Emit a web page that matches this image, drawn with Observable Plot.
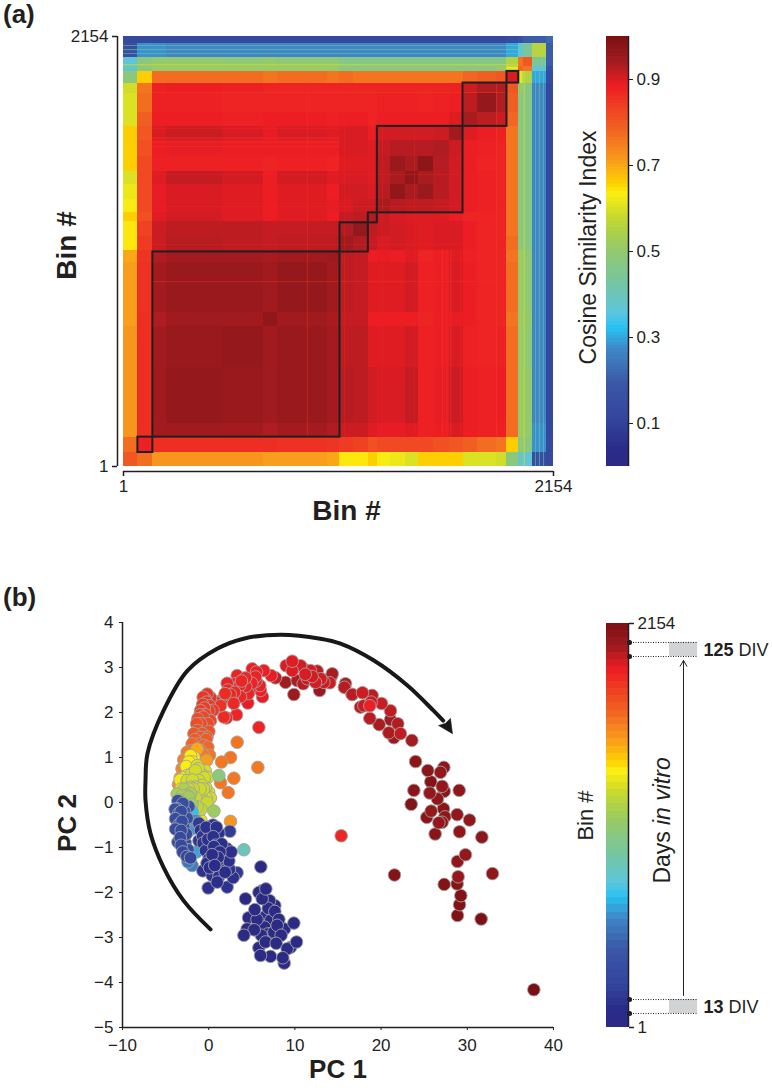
<!DOCTYPE html>
<html><head><meta charset="utf-8">
<style>
html,body{margin:0;padding:0;background:#fff}
#page{position:relative;width:772px;height:1092px;overflow:hidden;font-family:"Liberation Sans",Arial,sans-serif;color:#231f20}
.panel{position:absolute;font-weight:bold;font-size:26px;line-height:30px;left:3px}
</style>
<script src="https://cdn.jsdelivr.net/npm/d3@7"></script>
<script src="https://cdn.jsdelivr.net/npm/@observablehq/plot@0.6"></script>
</head><body><div id="page">
<div class="panel" style="top:-1px">(a)</div>
<div class="panel" style="top:582px">(b)</div>
</div>
<script>
const ink = "#231f20";
// colour ramp
const rampStops = [0,.044,.114,.19,.27,.323,.356,.41,.463,.52,.58,.635,.658,.71,.78,.855,.886,.937,1];
const rampHex = ["#2b2a83","#2a2c8c","#34479d","#3a57a5","#3f86c6","#29c2f2","#5cc5e0","#6fc5ae","#84c78a","#9ccb5e","#c7d92f","#fdee0f","#fdd000","#f99d1c","#f26522","#ee3123","#ed1c24","#a51c20","#7a1014"];
const colorScale = {type:"linear", domain:rampStops, range:rampHex};

// (a) bin segments along both axes of the similarity matrix
const segEdges = [1,73,148,214,497,700,772,1022,1085,1155,1227,1272,1338,1413,1480,1555,1633,1701,1771,1871,1921,1980,2004,2051,2121,2154];
// upper triangle of mean similarity between segments
const simRows = [
[.80,.77,.72,.72,.72,.71,.71,.70,.64,.64,.66,.63,.62,.60,.66,.66,.66,.60,.60,.59,.48,.38,.37,.15,.13],
[.88,.86,.86,.86,.86,.855,.85,.84,.83,.81,.82,.82,.82,.82,.81,.80,.79,.77,.76,.66,.50,.48,.28,.13],
[.94,.945,.94,.93,.94,.93,.91,.91,.895,.89,.89,.895,.88,.885,.90,.885,.88,.88,.77,.53,.50,.28,.12],
[.96,.955,.945,.955,.94,.925,.92,.905,.90,.90,.915,.88,.89,.91,.885,.88,.885,.77,.53,.50,.27,.12],
[.96,.945,.955,.94,.92,.92,.895,.895,.895,.905,.88,.885,.90,.88,.875,.88,.77,.53,.49,.27,.12],
[.965,.945,.935,.915,.915,.885,.885,.885,.885,.875,.885,.89,.885,.875,.875,.76,.53,.50,.27,.12],
[.96,.945,.92,.915,.895,.895,.895,.905,.88,.885,.90,.885,.875,.875,.77,.53,.49,.27,.12],
[.95,.92,.915,.885,.89,.885,.895,.875,.885,.895,.88,.875,.875,.76,.53,.49,.27,.12],
[.945,.93,.915,.90,.905,.90,.895,.90,.90,.885,.875,.875,.77,.49,.47,.27,.12],
[.96,.92,.91,.905,.90,.895,.90,.90,.885,.875,.875,.76,.49,.47,.27,.12],
[.93,.91,.90,.895,.895,.895,.885,.875,.875,.875,.76,.49,.47,.27,.12],
[.935,.925,.92,.92,.915,.905,.885,.88,.875,.76,.49,.47,.27,.12],
[.965,.935,.955,.925,.905,.885,.88,.875,.76,.49,.47,.27,.12],
[.965,.935,.925,.905,.885,.88,.875,.76,.49,.47,.27,.12],
[.97,.925,.905,.885,.875,.875,.76,.49,.47,.27,.12],
[.93,.91,.885,.88,.875,.76,.49,.47,.27,.12],
[.945,.895,.885,.88,.76,.49,.47,.27,.12],
[.935,.92,.91,.78,.49,.47,.27,.12],
[.96,.93,.79,.49,.47,.27,.12],
[.93,.80,.52,.47,.27,.12],
[.90,.62,.55,.30,.14],
[.78,.76,.36,.16],
[.80,.45,.20],
[.56,.20],
[.22]
];
// thin bright / dark streaks in the matrix
const streakBin  = [1870,1640,1598,922,1621,2104,2083,2064,1982,2007,1998,1560,1690,1110,1300,1460];
const streakVal  = [.82,.83,.84,.85,.84,.42,.42,.40,.38,.60,.48,.86,.86,.865,.865,.865];
const streakFrom = [148,148,148,148,148,1,1,1,1,1,1,148,148,148,148,148];
const streakTo   = [1921,1085,1085,1921,1085,2051,2051,2051,1980,1980,1980,1085,1085,1921,1921,1921];
const streakSize = [4,5,5,4,4,5,6,5,5,6,5,4,4,3,3,3];
// black outlined diagonal blocks
const blockEdgesX = [73,148,1085,1227,1272,1701,1921,1980];
const blockEdgesY = [71,148,1075,1221,1271,1704,1921,1979];
const simTicksY = [1,2154];
const simBarTicks = [.1,.3,.5,.7,.9];

// (b) PC scores per time bin
const pc1Tail=[37.72,31.61,28.86,29.1,29.25,27.32,21.55,23.49,25.77];
const pc2Tail=[-4.16,-2.59,-2.51,-2.27,-2.07,-1.82,-1.61,-.04,.46];
const binTail=[2150,2140,2135,2130,2130,2125,2120,2125,2120];
const pc1Late=[28.82,28.94,32.92,28.86,29.79,31.69,29.1,26.27,30.26,28.82,27.4,25.3,26.7,27.08,25.81,27.24,26.54,29.06,27.32,23.8,25.65,27.08,27.28,26.89,25.42,24];
const pc2Late=[-1.81,-1.65,-1.58,-1.31,-1.16,-.77,-.65,-.7,-.39,-.27,-.32,-.33,-.45,-.44,-.19,-.14,.08,.27,.25,.27,.21,.36,.78,.67,.71,.91];
const binLate=[2110,2060,2085,2080,2075,2090,2085,2105,2080,2075,2085,2095,2070,2085,2075,2105,2085,2085,2100,2095,2075,2070,2090,2070,2100,2090];
const pc1Fall=[23.57,21.48,22.25,20.9,21.94,19.78,21.09,18.69,21.09,20.05,18.85,17.6,18,18.69,18.96,17.84,16.64,15.87,15.75,16.65];
const pc2Fall=[1.38,1.44,1.53,1.55,1.75,1.73,1.84,1.87,2.04,2.2,2.23,2.12,2.15,2.15,2.38,2.44,2.4,2.64,2.56,2.4];
const binFall=[2020,2040,1975,2005,1995,2010,2020,1985,1975,1960,1960,1990,1970,1900,1980,1955,1985,2010,1990,1985];
const pc1Top=[14.33,14.21,15.76,14.05,13.36,12.39,12.86,12.59,11.81,11.43,11,10.96,10.65,10.26,9.88,9.69,9.69,8.99,8.91,11.2,12,13];
const pc2Top=[2.86,2.8,2.56,2.66,2.67,2.67,2.49,2.92,2.93,2.75,2.97,2.64,3.04,2.71,2.4,3.14,2.93,3.04,2.67,2.85,2.8,2.75];
const binTop=[2010,2030,2020,1960,1955,1945,2050,1985,1950,1965,1960,1990,1945,2000,2040,1925,1930,1935,2030,1940,1945,1950];
const pc1Rise=[7.75,7.25,6.4,6.24,6.01,5.93,5.55,5.43,5.05,4.77,4.54,4.27,3.69,3.5,3.3,3.11,2.72,2.22,2.14,1.56,1.37,5,4.3,3.8,3,2.5,3.6,4.6,5.5,2.9,1.9];
const pc2Rise=[2.77,2.82,2.93,2.35,2.49,2.6,2.9,2.79,2.97,2.5,2.21,2.77,2.35,2.53,2.82,2.64,2.33,2.5,2.65,2.28,2.15,2.65,2.58,2.7,2.45,2.4,2.6,2.42,2.7,2.2,2.42];
const binRise=[1960,1910,1905,1910,1900,1895,1895,1890,1900,1890,1915,1880,1880,1885,1890,1890,1880,1880,1885,1885,1840,1890,1885,1880,1875,1870,1885,1890,1895,1870,1860];
const pc1Red=[15.37,5.82,1.76,3.23,2.07];
const pc2Red=[-.74,1.67,1.9,1.95,1.88];
const binRed=[1875,1880,1860,1880,1870];
const pc1Ora=[-.18,-.4,-.64,.21,-.25,.79,.5,-.95,.02,-.5,-1.26,-.64,.21,-.9,-1,-1.72,-.76,.02,-1.3,-.3,-1.92,-.56,-1.2,-.1,.1,-2.5,-1.9,-.6,-.7,.1,-.4,-.1,-1.4,-1.6,-1,-.2,-2.1,-1.5,-.9,-2.3,-3.1,-3.3,-2.9,-3.5,-2.7];
const pc2Ora=[2.41,2.3,2.34,2.33,2.23,2.23,2.05,2.04,2.04,2.1,1.86,1.9,1.82,1.75,1.95,1.53,1.53,1.58,1.6,1.4,1.3,1.27,1.3,1.23,1.05,1.12,1,1.05,2.18,2.15,1.95,1.75,1.75,1.4,1.45,1.45,1.15,1.1,1.15,.98,.75,.55,.95,.4,.85];
const binOra=[1840,1835,1830,1845,1825,1850,1820,1800,1810,1805,1770,1780,1785,1765,1790,1730,1735,1740,1750,1720,1690,1690,1700,1680,1640,1620,1610,1630,1815,1825,1795,1770,1755,1715,1725,1730,1670,1665,1675,1610,1590,1580,1600,1570,1590];
const pc1Amb=[1.49,2.53,3.3,5.7,2.92,1.37,2.26,2.53,-.25,-1.34];
const pc2Amb=[.9,1,1.34,.78,.54,.44,.22,-.42,.93,1.19];
const binAmb=[1630,1640,1640,1630,1630,1640,1640,1550,1530,1500];
const pc1Yel=[-2.11,-2.3,-1.9,-2.6,-2.2,-1.5,-2.9,-2.5,-1.9,-3.2,-2.9,-3,-1.2,-3.3,-2.7,-1.14,-1.6,-1.7,-3.4,-.9];
const pc2Yel=[1.04,.9,.9,.8,.75,.8,.55,.6,.65,.3,.3,.1,-.25,.5,.45,-.22,-.3,1.0,.15,-.4];
const binYel=[1370,1365,1370,1360,1365,1370,1350,1355,1360,1340,1345,1335,1330,1345,1350,1325,1330,1375,1335,1320];
const pc1Lim=[-1.34,-2.03,-.87,-1.53,-2.5,-.76,-1.53,0,-2.1,-.95,-.37,-1.14,-.1,-1.72,-.76,-1.34,.2,-.3,-.6,-1,-1.5,-.5,-1.8,-.2,-.9,-1.9,-1.2,-2.3,-.4];
const pc2Lim=[.82,.62,.64,.71,.49,.38,.34,.23,.34,.15,.34,.49,.56,.12,-.03,-.1,.1,.1,.3,.3,.1,.55,.3,0,-.15,.5,.75,.3,.7];
const binLim=[1290,1280,1285,1275,1270,1265,1260,1280,1255,1260,1275,1270,1285,1250,1255,1240,1270,1265,1260,1260,1250,1275,1255,1250,1245,1270,1285,1255,1290];
const pc1Grn=[-2.88,-3.66,-2.5,-3.08,-1.92,-2.3,1.18,.6,4.08,-2.7,-3.3,-2.1];
const pc2Grn=[.3,.19,.15,.15,-.04,.12,.6,-.19,-1.05,-.02,.05,.2];
const binGrn=[1170,1160,1155,1150,1130,1140,1040,1120,860,1145,1150,1160];
const pc1Cya=[-1.41,-1.92,-1.5,-2.4,-2.1,-1.9];
const pc2Cya=[-1.1,-1.4,-.4,-1.32,-.6,-.2];
const binCya=[640,560,600,520,610,700];
const pc1Arc=[-3.58,-3,-3.66,-2.3,-3.2,-3.85,-3.1,-2.5,-3.85,-3.2,-2.9,-3.58,-2.7,-3.3,-3,-3.2,-2.4,-2.11,-3.9,-2.6,-3.5,-3.5,-2.8,-2.55];
const pc2Arc=[.04,-.02,-.14,-.09,-.2,-.36,-.42,-.35,-.59,-.62,-.55,-.88,-.9,-.78,-1.1,-.95,-1.05,-1.23,-.15,-.7,-.5,-.25,-.2,-1.2];
const binArc=[330,320,310,340,300,300,290,320,290,280,300,280,290,270,260,270,280,250,310,290,295,305,325,260];
const pc1Mid=[-1.14,-.95,.02,2.45,1.18,.52,-1.14,-.64,.6,-.37,2.14,2.61,1.56,.4,.02,.98,2.34,3.3,-.68,.4,1.18,1.76,2.84,-.06,2.14,.98,1.3,.7,1.9,-.2,.8,-.1,1.5,.1,2.4,1.1,.5,-.7,-.3,.9];
const pc2Mid=[-.46,-.62,-.61,-.64,-.68,-.76,-.85,-.9,-.98,-1.07,-1.03,-1.1,-1.18,-1.16,-1.25,-1.31,-1.3,-1.56,-1.52,-1.62,-1.65,-1.47,-1.67,-1.9,-1.88,-1.77,-1.1,-1.4,-1.55,-1.35,-.95,-.82,-.92,-1.45,-1.48,-1.22,-.5,-.75,-.55,-.55];
const binMid=[180,140,130,185,130,120,140,130,110,130,120,110,120,100,110,110,115,170,130,120,110,120,120,110,130,100,105,95,100,105,115,125,115,100,120,105,135,140,130,125];
const pc1Low=[6.05,6.2,6.63,5.82,4.27,7.06,6.2,7.67,5.35,7.67,6.59,8.14,4.62,9.88,8.8,6.48,5.28,4.46,7.17,4.08,6.9,6.59,7.83,5.82,10.19,9.49,9.1,6.01,7.17,8.6,8.76,7.94,7.56,6.9,5.6,7.2,6.1,8.4,6.7];
const pc2Low=[-1.43,-1.96,-1.92,-2,-2.14,-2.18,-2.14,-2.29,-2.38,-2.42,-2.53,-2.6,-2.56,-2.68,-2.81,-2.77,-2.83,-2.81,-2.83,-2.95,-2.92,-3.1,-3.13,-3.23,-3.1,-3.22,-3.25,-3.4,-3.42,-3.45,-3.57,-2.73,-2.88,-2.35,-2.6,-2.62,-2.95,-2.95,-2.72];
const binLow=[20,40,35,40,35,45,40,50,35,40,45,35,40,30,45,40,30,35,50,30,40,35,30,45,20,45,30,30,35,30,40,35,40,42,38,44,36,32,46];

const pc1 = [...pc1Tail,...pc1Late,...pc1Fall,...pc1Top,...pc1Rise,...pc1Red,...pc1Ora,...pc1Amb,...pc1Yel,...pc1Lim,...pc1Grn,...pc1Cya,...pc1Arc,...pc1Mid,...pc1Low];
const pc2 = [...pc2Tail,...pc2Late,...pc2Fall,...pc2Top,...pc2Rise,...pc2Red,...pc2Ora,...pc2Amb,...pc2Yel,...pc2Lim,...pc2Grn,...pc2Cya,...pc2Arc,...pc2Mid,...pc2Low];
const bin = [...binTail,...binLate,...binFall,...binTop,...binRise,...binRed,...binOra,...binAmb,...binYel,...binLim,...binGrn,...binCya,...binArc,...binMid,...binLow];

// trajectory annotation
const trajPc1=[.21,-2.92,-5.24,-6.75,-7.33,-7.33,-7.1,-5.24,-2.46,1.02,4.04,8.33,12.97,15.29,19.12,23.06,26.08,27.2];
const trajPc2=[-2.82,-2.18,-1.44,-.69,.04,.49,1.09,2.04,2.93,3.42,3.64,3.73,3.64,3.53,3.16,2.6,2.04,1.82];
const headPc1=[28.28,26.66,27.47,28.05,28.28];
const headPc2=[1.53,1.71,1.76,1.87,1.53];

// DIV brackets on the bin bar
const div13 = [76,150];
const div125 = [1978,2053];
const binBarTicks = [1,2154];
const pcXTicks = [-10,0,10,20,30,40];
const pcYTicks = [-5,-4,-3,-2,-1,0,1,2,3,4];

const page = document.getElementById("page");
function place(svg,left,top){svg.style.position="absolute";svg.style.left=left+"px";svg.style.top=top+"px";svg.style.maxWidth="none";svg.style.background="transparent";page.appendChild(svg);}
const font = "Liberation Sans";

// ---------- (a) heatmap
const cells=[];
simRows.forEach((row,i)=>row.forEach((v,k)=>{
  const j=i+k;
  cells.push({x1:segEdges[i],x2:segEdges[i+1],y1:segEdges[j],y2:segEdges[j+1],v});
  if(j!==i) cells.push({x1:segEdges[j],x2:segEdges[j+1],y1:segEdges[i],y2:segEdges[i+1],v});
}));
const streaks=[];
streakBin.forEach((b,i)=>{
  streaks.push({x1:streakFrom[i],x2:streakTo[i],y1:b,y2:b+streakSize[i],v:streakVal[i]});
  streaks.push({x1:b,x2:b+streakSize[i],y1:streakFrom[i],y2:streakTo[i],v:streakVal[i]});
});
const blocks=blockEdgesX.slice(1).map((b,i)=>({xa:blockEdgesX[i],xb:b,ya:blockEdgesY[i],yb:blockEdgesY[i+1]}));
place(Plot.plot({
  width:580,height:530,marginLeft:123,marginRight:27,marginTop:36,marginBottom:64,
  style:{fontFamily:font,color:ink,background:"transparent"},
  x:{domain:[1,2154],axis:null},y:{domain:[1,2154],axis:null},color:colorScale,
  marks:[
    Plot.rect(cells,{x1:"x1",x2:"x2",y1:"y1",y2:"y2",fill:"v",shapeRendering:"crispEdges"}),
    Plot.rect(streaks,{x1:"x1",x2:"x2",y1:"y1",y2:"y2",fill:"v",opacity:.55}),
    Plot.rect(blocks,{x1:"xa",x2:"xb",y1:"ya",y2:"yb",stroke:ink,strokeWidth:2,fill:"none"}),
    Plot.axisX({ticks:simTicksY,tickFormat:d=>String(d),tickSize:5,dy:5,fontSize:17,tickPadding:3,stroke:ink,strokeWidth:1.5,label:null}),
    Plot.ruleY([1],{dy:5,stroke:ink,strokeWidth:1.5}),
    Plot.axisY({ticks:simTicksY,tickFormat:d=>String(d),tickSize:5,dx:-6,fontSize:17,tickPadding:4,stroke:ink,strokeWidth:1.5,label:null}),
    Plot.ruleX([1],{dx:-6,stroke:ink,strokeWidth:1.5}),
    Plot.text(["Bin #"],{frameAnchor:"bottom",textAnchor:"middle",dy:53,dx:8,fontSize:28,fontWeight:"bold",fill:ink}),
    Plot.text(["Bin #"],{frameAnchor:"left",textAnchor:"middle",dx:-56,dy:-6,rotate:-90,fontSize:28,fontWeight:"bold",fill:ink})
  ]
}),0,0);

// ---------- (a) colour bar
const barLevels=d3.range(0,1,1/128);
place(Plot.plot({
  width:212,height:480,marginLeft:46,marginRight:144,marginTop:36,marginBottom:14,
  style:{fontFamily:font,color:ink,background:"transparent"},
  x:{domain:[0,1],axis:null},y:{domain:[0,1],axis:null},color:colorScale,
  marks:[
    Plot.rect(barLevels,{x1:0,x2:1,y1:d=>d,y2:d=>d+1/128,fill:d=>d+1/256,shapeRendering:"crispEdges"}),
    Plot.ruleX([1],{stroke:ink,strokeWidth:1.5}),
    Plot.axisY({anchor:"right",ticks:simBarTicks,tickFormat:d3.format(".1f"),tickSize:4,fontSize:17,tickPadding:4,stroke:ink,label:null}),
    Plot.text(["Cosine Similarity Index"],{frameAnchor:"left",textAnchor:"middle",dx:-18,dy:-4,rotate:-90,fontSize:23,fill:ink})
  ]
}),560,0);

// ---------- (b) scatter
const points=d3.sort(pc1.map((x,i)=>({x,y:pc2[i],bin:bin[i]})),d=>-d.bin);
const frac=b=>(b-1)/2153;
place(Plot.plot({
  width:600,height:532,marginLeft:122,marginRight:47,marginTop:62,marginBottom:65,
  style:{fontFamily:font,color:ink,background:"transparent"},
  x:{domain:[-10,40],axis:null},y:{domain:[-5,4],axis:null},color:colorScale,
  marks:[
    Plot.ruleX([-10],{stroke:ink,strokeWidth:1.5}),
    Plot.ruleY([-5],{stroke:ink,strokeWidth:1.5}),
    Plot.axisX({ticks:pcXTicks,tickSize:3,fontSize:17,tickPadding:8,stroke:ink,label:null}),
    Plot.axisY({ticks:pcYTicks,tickSize:3,fontSize:17,tickPadding:6,stroke:ink,label:null}),
    Plot.dot(points,{x:"x",y:"y",r:6.3,fill:d=>frac(d.bin),stroke:"#a3a3a3",strokeWidth:.9}),
    Plot.line(trajPc1.map((x,i)=>({x,y:trajPc2[i]})),{x:"x",y:"y",curve:"catmull-rom",stroke:"#1a1718",strokeWidth:4}),
    Plot.line(headPc1.map((x,i)=>({x,y:headPc2[i]})),{x:"x",y:"y",fill:"#1a1718",stroke:"#1a1718",strokeWidth:.5}),
    Plot.text(["PC 1"],{frameAnchor:"bottom",textAnchor:"middle",dy:50,fontSize:26,fontWeight:"bold",fill:ink}),
    Plot.text(["PC 2"],{frameAnchor:"left",textAnchor:"middle",dx:-55,dy:-2,rotate:-90,fontSize:26,fontWeight:"bold",fill:ink})
  ]
}),0,560);

// ---------- (b) bin bar with DIV annotations
const bandEdges=d3.range(1,2154,2153/56);
const bandH=2153/56;
place(Plot.plot({
  width:206,height:532,marginLeft:40,marginRight:144,marginTop:63,marginBottom:65,
  style:{fontFamily:font,color:ink,background:"transparent"},
  x:{domain:[0,1],axis:null},y:{domain:[1,2154],axis:null},color:colorScale,
  marks:[
    Plot.rect(bandEdges,{x1:0,x2:1,y1:d=>d,y2:d=>d+bandH,fill:d=>frac(d+bandH/2),shapeRendering:"crispEdges"}),
    Plot.ruleX([1],{stroke:ink,strokeWidth:1.5}),
    Plot.axisY({anchor:"right",ticks:binBarTicks,tickFormat:d=>String(d),tickSize:5,fontSize:17,tickPadding:4,stroke:ink,strokeWidth:1.5,label:null}),
    Plot.rect([div13,div125],{x1:2.86,x2:4.14,y1:d=>d[0],y2:d=>d[1],fill:"#d1d3d4"}),
    Plot.ruleY([...div13,...div125],{x1:1,x2:4.14,stroke:ink,strokeDasharray:"1,1.5",strokeWidth:1}),
    Plot.dot([...div13,...div125],{x:1.05,y:d=>d,r:2.5,fill:ink}),
    Plot.arrow([0],{x1:3.5,x2:3.5,y1:172,y2:1957,stroke:ink,strokeWidth:1,headLength:10,bend:0,inset:0}),
    Plot.text(["Bin #"],{frameAnchor:"left",textAnchor:"middle",dx:-21,dy:-10,rotate:-90,fontSize:22,fill:ink}),
    Plot.text(["Days "],{x:2.55,y:768,rotate:-90,textAnchor:"start",fontSize:23,fill:ink}),
    Plot.text(["in vitro"],{x:2.55,y:1080,rotate:-90,textAnchor:"start",fontSize:23,fontStyle:"italic",fill:ink}),
    Plot.text(["125"],{x:4.41,y:2010,textAnchor:"start",fontSize:18,fontWeight:"bold",fill:ink}),
    Plot.text(["DIV"],{x:6,y:2010,textAnchor:"start",fontSize:18,fill:ink}),
    Plot.text(["13"],{x:4.41,y:108,textAnchor:"start",fontSize:18,fontWeight:"bold",fill:ink}),
    Plot.text(["DIV"],{x:5.55,y:108,textAnchor:"start",fontSize:18,fill:ink})
  ]
}),566,560);
</script>
</body></html>
